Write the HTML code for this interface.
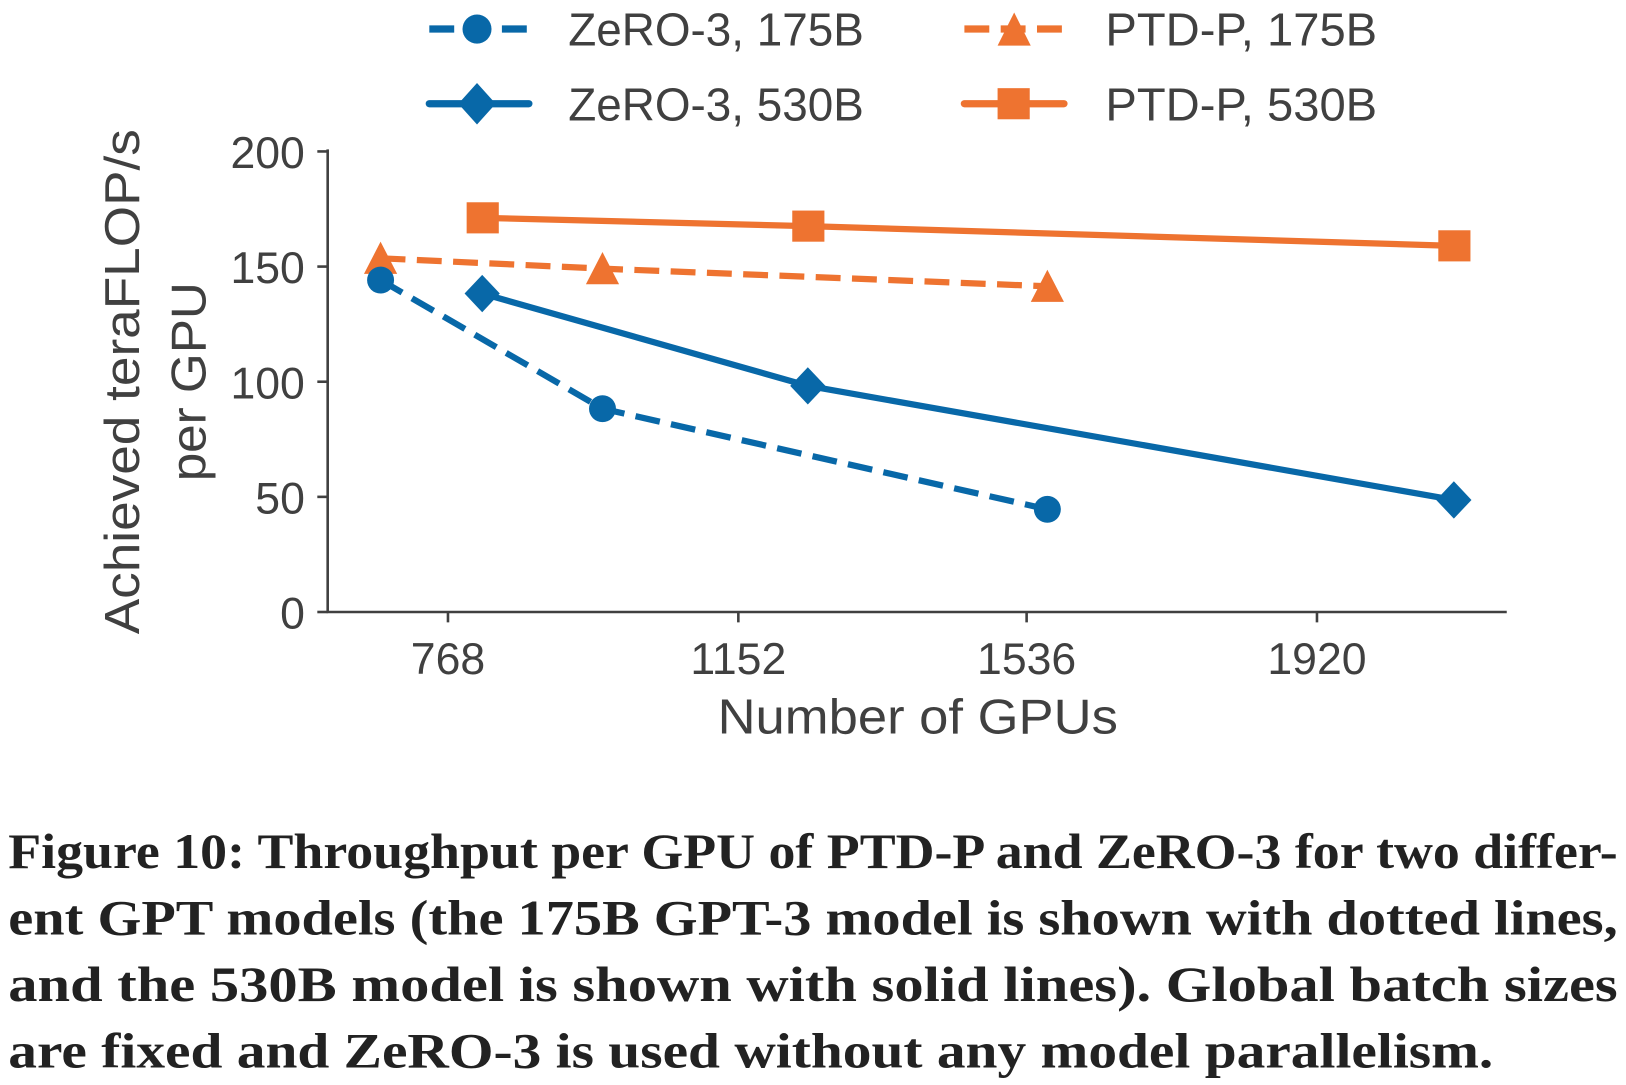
<!DOCTYPE html>
<html><head><style>html,body{margin:0;padding:0;background:#fff}svg{display:block}</style></head>
<body>
<svg width="1626" height="1085" viewBox="0 0 1568 1046" preserveAspectRatio="none" xmlns="http://www.w3.org/2000/svg">
<g font-family="Liberation Sans, sans-serif" fill="#404040">
<!-- legend -->
<line x1="414" y1="28" x2="510" y2="28" stroke="#0868a8" stroke-width="7" stroke-dasharray="24,11"/>
<circle cx="460" cy="28" r="14" fill="#0868a8"/>
<line x1="414" y1="100" x2="510" y2="100" stroke="#0868a8" stroke-width="7" stroke-linecap="round"/>
<polygon points="460,80 478,100 460,120 442,100" fill="#0868a8"/>
<line x1="930" y1="28" x2="1028" y2="28" stroke="#ee7330" stroke-width="7" stroke-dasharray="24,11"/>
<polygon points="978,12 994,44 962,44" fill="#ee7330"/>
<line x1="930" y1="100" x2="1026" y2="100" stroke="#ee7330" stroke-width="7" stroke-linecap="round"/>
<rect x="962" y="85" width="31" height="30" fill="#ee7330"/>
<text x="548" y="44" font-size="45" textLength="285" lengthAdjust="spacingAndGlyphs">ZeRO-3, 175B</text>
<text x="548" y="116" font-size="45" textLength="285" lengthAdjust="spacingAndGlyphs">ZeRO-3, 530B</text>
<text x="1066" y="44" font-size="45" textLength="262" lengthAdjust="spacingAndGlyphs">PTD-P, 175B</text>
<text x="1066" y="116" font-size="45" textLength="262" lengthAdjust="spacingAndGlyphs">PTD-P, 530B</text>
<!-- axes -->
<line x1="316" y1="144" x2="316" y2="591" stroke="#404040" stroke-width="2.5"/>
<line x1="315" y1="590" x2="1453" y2="590" stroke="#404040" stroke-width="2.5"/>
<g stroke="#404040" stroke-width="2.5">
<line x1="306" y1="146" x2="316" y2="146"/><line x1="306" y1="257" x2="316" y2="257"/>
<line x1="306" y1="368" x2="316" y2="368"/><line x1="306" y1="479" x2="316" y2="479"/>
<line x1="306" y1="590" x2="316" y2="590"/>
<line x1="432" y1="590" x2="432" y2="600"/><line x1="712" y1="590" x2="712" y2="600"/>
<line x1="990" y1="590" x2="990" y2="600"/><line x1="1270" y1="590" x2="1270" y2="600"/>
</g>
<g font-size="43" text-anchor="end">
<text x="294" y="162">200</text><text x="294" y="273">150</text><text x="294" y="384">100</text>
<text x="294" y="495">50</text><text x="294" y="606">0</text>
</g>
<g font-size="43" text-anchor="middle">
<text x="432" y="650">768</text><text x="712" y="650">1152</text>
<text x="990" y="650">1536</text><text x="1270" y="650">1920</text>
</g>
<text x="885" y="707" font-size="47" text-anchor="middle" textLength="386" lengthAdjust="spacingAndGlyphs">Number of GPUs</text>
<text transform="translate(134,368) rotate(-90)" font-size="47" text-anchor="middle" textLength="487" lengthAdjust="spacingAndGlyphs">Achieved teraFLOP/s</text>
<text transform="translate(198,368) rotate(-90)" font-size="47" text-anchor="middle" textLength="192" lengthAdjust="spacingAndGlyphs">per GPU</text>
<!-- series -->
<polyline points="465,210 779,218 1402,237" fill="none" stroke="#ee7330" stroke-width="6"/>
<rect x="450" y="195" width="31" height="30" fill="#ee7330"/>
<rect x="764" y="203" width="31" height="30" fill="#ee7330"/>
<rect x="1387" y="222" width="31" height="30" fill="#ee7330"/>
<polyline points="367,249 581,259 1010,276" fill="none" stroke="#ee7330" stroke-width="6" stroke-dasharray="24,11"/>
<polygon points="367,233 383,264 351,264" fill="#ee7330"/>
<polygon points="581,243 597,274 565,274" fill="#ee7330"/>
<polygon points="1010,260 1026,291 994,291" fill="#ee7330"/>
<polyline points="465,283 779,372 1402,482" fill="none" stroke="#0868a8" stroke-width="6"/>
<polygon points="465,265 482,283 465,301 448,283" fill="#0868a8"/>
<polygon points="779,354 796,372 779,390 762,372" fill="#0868a8"/>
<polygon points="1402,464 1419,482 1402,500 1385,482" fill="#0868a8"/>
<polyline points="367,270 581,394 1010,491" fill="none" stroke="#0868a8" stroke-width="6" stroke-dasharray="24,11"/>
<circle cx="367" cy="270" r="13" fill="#0868a8"/>
<circle cx="581" cy="394" r="13" fill="#0868a8"/>
<circle cx="1010" cy="491" r="13" fill="#0868a8"/>
</g>
<g font-family="Liberation Serif, serif" font-weight="bold" font-size="48" fill="#222">
<text x="8" y="837" textLength="1552" lengthAdjust="spacingAndGlyphs">Figure 10: Throughput per GPU of PTD-P and ZeRO-3 for two differ-</text>
<text x="8" y="901" textLength="1552" lengthAdjust="spacingAndGlyphs">ent GPT models (the 175B GPT-3 model is shown with dotted lines,</text>
<text x="8" y="965" textLength="1552" lengthAdjust="spacingAndGlyphs">and the 530B model is shown with solid lines). Global batch sizes</text>
<text x="8" y="1029" textLength="1432" lengthAdjust="spacingAndGlyphs">are fixed and ZeRO-3 is used without any model parallelism.</text>
</g>
</svg>
</body></html>
